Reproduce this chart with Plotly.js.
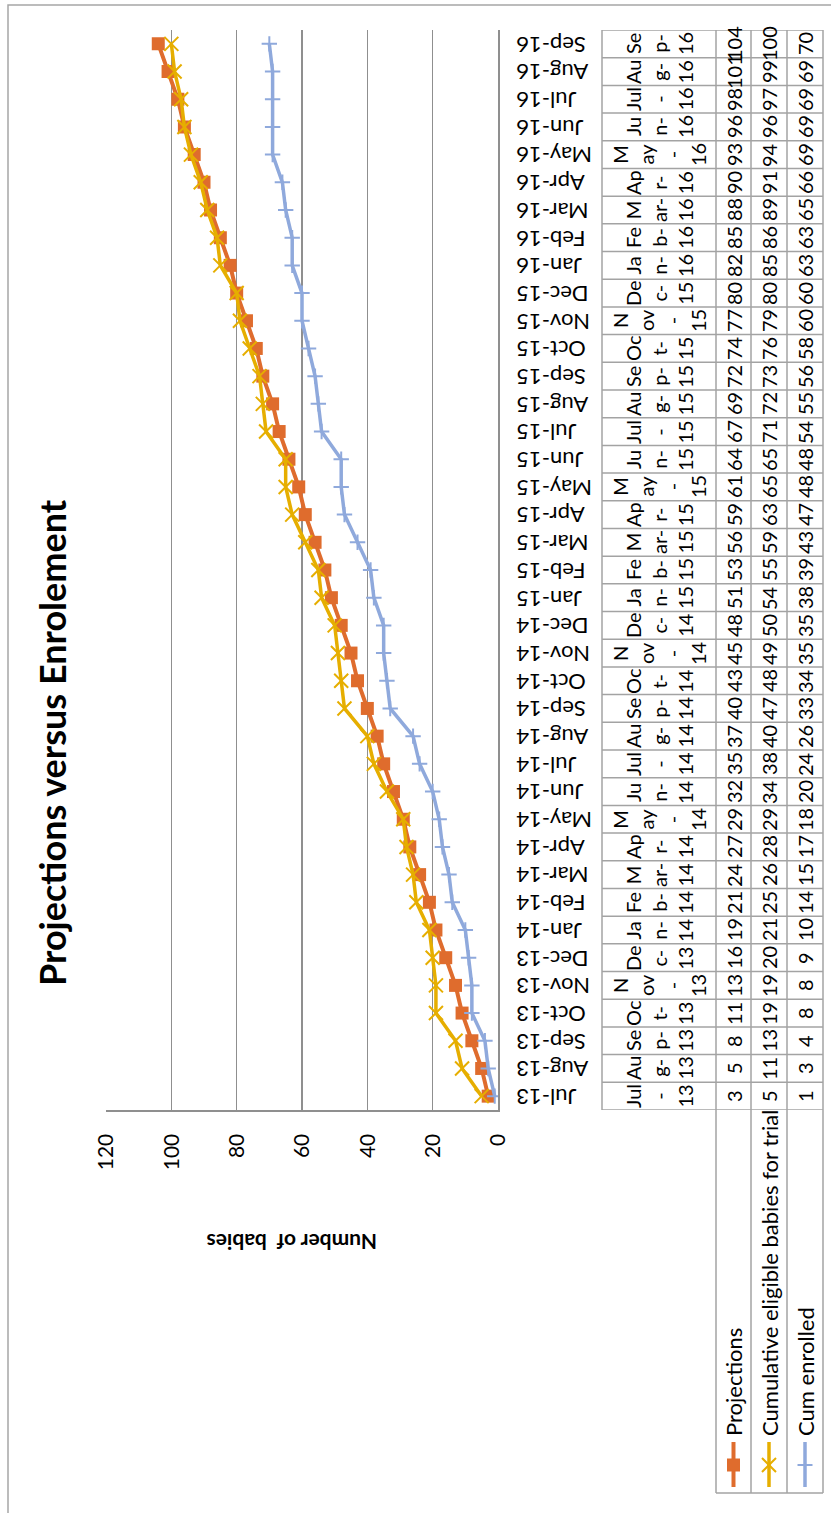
<!DOCTYPE html>
<html>
<head>
<meta charset="utf-8">
<script src="https://cdn.plot.ly/plotly-3.0.1.min.js"></script>
<style>
  html, body { margin: 0; padding: 0; background: #ffffff; overflow: hidden; }
  #chart {
    position: absolute; left: 0; top: 0;
    width: 1513px; height: 831px;
    transform-origin: 0 0;
    transform: translateY(1513px) rotate(-90deg);
  }
</style>
</head>
<body>
<div id="chart"></div>
<script>
// Monthly categories
const months = ['Jul-13','Aug-13','Sep-13','Oct-13','Nov-13','Dec-13',
  'Jan-14','Feb-14','Mar-14','Apr-14','May-14','Jun-14','Jul-14','Aug-14','Sep-14','Oct-14','Nov-14','Dec-14',
  'Jan-15','Feb-15','Mar-15','Apr-15','May-15','Jun-15','Jul-15','Aug-15','Sep-15','Oct-15','Nov-15','Dec-15',
  'Jan-16','Feb-16','Mar-16','Apr-16','May-16','Jun-16','Jul-16','Aug-16','Sep-16'];

// Series
const projections = [3,5,8,11,13,16,19,21,24,27,29,32,35,37,40,43,45,48,51,53,56,59,61,64,67,69,72,74,77,80,82,85,88,90,93,96,98,101,104];
const eligible    = [5,11,13,19,19,20,21,25,26,28,29,34,38,40,47,48,49,50,54,55,59,63,65,65,71,72,73,76,79,80,85,86,89,91,94,96,97,99,100];
const enrolled    = [1,3,4,8,8,9,10,14,15,17,18,20,24,26,33,34,35,35,38,39,43,47,48,48,54,55,56,58,60,60,63,63,65,66,69,69,69,69,70];

const seriesNames = ['Projections', 'Cumulative eligible babies for trial', 'Cum enrolled'];
const yTicks = [0, 20, 40, 60, 80, 100, 120];

// How the narrow data-table header cells wrap each month name
const monthWrap = {
  Jan:['Ja','n-'], Feb:['Fe','b-'], Mar:['M','ar-'], Apr:['Ap','r-'], May:['M','ay','-'], Jun:['Ju','n-'],
  Jul:['Jul','-'], Aug:['Au','g-'], Sep:['Se','p-'], Oct:['Oc','t-'], Nov:['N','ov','-'], Dec:['De','c-']
};

const colors = ['#DF6C2D', '#E6AE00', '#8FA9DC'];
const FONT = 'Lato, "Open Sans", sans-serif';

// Figure geometry (pixels in the unrotated chart)
const W = 1513, H = 831;
const L = 403, R = 1483, T = 106, B = 498;
const px = X => (X - L) / (R - L);
const py = Y => (B - Y) / (B - T);

const tableTop = 602, headBottom = 716;
const rowEdges = [716, 751, 787, 823];
const legendLeft = 20;
const gridColor = '#8F8F8F';
const tableColor = '#A3A3A3';

const traces = [
  { x: months, y: projections, name: seriesNames[0], type: 'scatter', mode: 'lines+markers',
    line: { color: colors[0], width: 4 },
    marker: { symbol: 'square', size: 13, color: colors[0] } },
  { x: months, y: eligible, name: seriesNames[1], type: 'scatter', mode: 'lines+markers',
    line: { color: colors[1], width: 3.5 },
    marker: { symbol: 'x-thin', size: 14, color: colors[1], line: { color: colors[1], width: 2 } } },
  { x: months, y: enrolled, name: seriesNames[2], type: 'scatter', mode: 'lines+markers',
    line: { color: colors[2], width: 3.5 },
    marker: { symbol: 'cross-thin', size: 11, color: colors[2], line: { color: colors[2], width: 2 } } }
];

const shapes = [];
const annotations = [];

// Chart area border
shapes.push({ type: 'rect', xref: 'paper', yref: 'paper',
  x0: px(-10), x1: px(1508), y0: py(845), y1: py(8),
  line: { color: '#A6A6A6', width: 1.5 }, fillcolor: 'rgba(0,0,0,0)', layer: 'below' });

// Data table: horizontal rules
shapes.push({ type: 'line', xref: 'paper', yref: 'paper', x0: 0, x1: 1, y0: py(tableTop), y1: py(tableTop),
  line: { color: tableColor, width: 1.5 } });
rowEdges.forEach(Y => {
  shapes.push({ type: 'line', xref: 'paper', yref: 'paper', x0: px(legendLeft), x1: 1, y0: py(Y), y1: py(Y),
    line: { color: tableColor, width: 1.5 } });
});
// Data table: column rules
for (let i = 0; i <= months.length; i++) {
  shapes.push({ type: 'line', xref: 'x', yref: 'paper', x0: i - 0.5, x1: i - 0.5,
    y0: py(tableTop), y1: py(rowEdges[3]), line: { color: tableColor, width: 1.5 } });
}
shapes.push({ type: 'line', xref: 'paper', yref: 'paper', x0: px(legendLeft), x1: px(legendLeft),
  y0: py(headBottom), y1: py(rowEdges[3]), line: { color: tableColor, width: 1.5 } });

// Header cells
months.forEach((m, i) => {
  const [mon, yr] = m.split('-');
  annotations.push({ xref: 'x', yref: 'paper', x: i, y: py((tableTop + headBottom) / 2),
    text: monthWrap[mon].concat(yr).join('<br>'), showarrow: false,
    xanchor: 'center', yanchor: 'middle', align: 'center',
    font: { family: FONT, size: 20, color: '#000' } });
});

// Value cells + legend keys
const seriesData = [projections, eligible, enrolled];
seriesData.forEach((vals, s) => {
  const yc = (rowEdges[s] + rowEdges[s + 1]) / 2;
  vals.forEach((v, i) => {
    annotations.push({ xref: 'x', yref: 'paper', x: i, y: py(yc), text: String(v), showarrow: false,
      xanchor: 'center', yanchor: 'middle', font: { family: FONT, size: 20, color: '#000' } });
  });
  // key line
  shapes.push({ type: 'line', xref: 'paper', yref: 'paper', x0: px(26), x1: px(71), y0: py(yc), y1: py(yc),
    line: { color: colors[s], width: s === 0 ? 4 : 3.5 } });
  const cx = 48;
  if (s === 0) {
    shapes.push({ type: 'rect', xref: 'paper', yref: 'paper', x0: px(cx - 6.5), x1: px(cx + 6.5),
      y0: py(yc + 6.5), y1: py(yc - 6.5), line: { width: 0 }, fillcolor: colors[0] });
  } else if (s === 1) {
    shapes.push({ type: 'line', xref: 'paper', yref: 'paper', x0: px(cx - 7), x1: px(cx + 7),
      y0: py(yc - 7), y1: py(yc + 7), line: { color: colors[1], width: 2 } });
    shapes.push({ type: 'line', xref: 'paper', yref: 'paper', x0: px(cx - 7), x1: px(cx + 7),
      y0: py(yc + 7), y1: py(yc - 7), line: { color: colors[1], width: 2 } });
  } else {
    shapes.push({ type: 'line', xref: 'paper', yref: 'paper', x0: px(cx), x1: px(cx),
      y0: py(yc - 7.5), y1: py(yc + 7.5), line: { color: colors[2], width: 2 } });
  }
  annotations.push({ xref: 'paper', yref: 'paper', x: px(75), y: py(yc), text: seriesNames[s], showarrow: false,
    xanchor: 'left', yanchor: 'middle', font: { family: FONT, size: 22, color: '#000' } });
});

// Chart title and value-axis title
annotations.push({ xref: 'paper', yref: 'paper', x: px(770), y: py(52),
  text: '<b>Projections versus Enrolement</b>', showarrow: false, xanchor: 'center', yanchor: 'middle',
  font: { family: FONT, size: 36, color: '#000' } });
annotations.push({ xref: 'paper', yref: 'paper', x: px(270), y: py(292),
  text: '<b>Number of\u00a0 babies</b>', showarrow: false, textangle: -90, xanchor: 'center', yanchor: 'middle',
  font: { family: FONT, size: 21, color: '#000' } });

const layout = {
  width: W, height: H,
  margin: { l: L, r: W - R, t: T, b: H - B, pad: 0 },
  paper_bgcolor: '#ffffff', plot_bgcolor: '#ffffff',
  showlegend: false,
  font: { family: FONT, color: '#000' },
  xaxis: {
    type: 'category', categoryorder: 'array', categoryarray: months,
    range: [-0.5, months.length - 0.5],
    tickangle: -90, tickfont: { family: FONT, size: 22, color: '#000' },
    ticklabelstandoff: 8,
    showgrid: false, zeroline: false, showline: true, linecolor: gridColor, linewidth: 1.5, ticks: ''
  },
  yaxis: {
    range: [0, 120], tickvals: yTicks, ticktext: yTicks.map(String),
    tickfont: { family: FONT, size: 21, color: '#000' },
    ticklabelstandoff: 18,
    showgrid: true, gridcolor: gridColor, gridwidth: 1.5,
    zeroline: false, showline: true, linecolor: gridColor, linewidth: 1.5, ticks: ''
  },
  shapes: shapes,
  annotations: annotations
};

Plotly.newPlot('chart', traces, layout, { staticPlot: true, displayModeBar: false });
</script>
</body>
</html>
